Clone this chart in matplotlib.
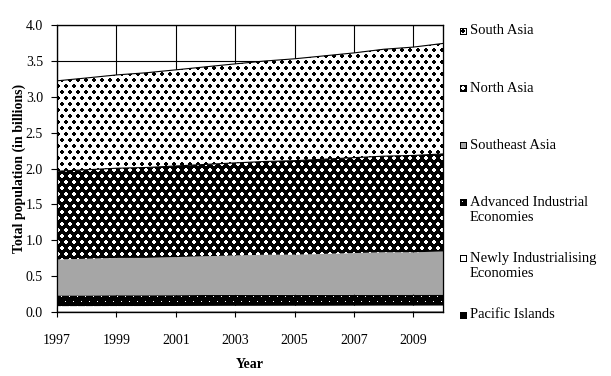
import matplotlib
matplotlib.use("Agg")
import matplotlib.pyplot as plt
import matplotlib.ticker as mticker
import numpy as np

plt.rcParams["font.family"] = ["Liberation Serif", "DejaVu Serif"]

years = list(range(1997, 2011))

# population in billions (stack bottom -> top)
pacific_islands = [0.007, 0.007, 0.007, 0.007, 0.007, 0.008, 0.008, 0.008, 0.008, 0.008, 0.008, 0.009, 0.009, 0.009]
newly_industrialising = [0.075, 0.075, 0.076, 0.076, 0.077, 0.077, 0.078, 0.078, 0.079, 0.079, 0.080, 0.080, 0.080, 0.081]
advanced_industrial = [0.150, 0.150, 0.151, 0.151, 0.151, 0.152, 0.152, 0.152, 0.152, 0.153, 0.153, 0.153, 0.153, 0.153]
southeast_asia = [0.50, 0.51, 0.52, 0.52, 0.53, 0.54, 0.55, 0.56, 0.56, 0.57, 0.58, 0.59, 0.59, 0.60]
north_asia = [1.23, 1.24, 1.25, 1.26, 1.27, 1.28, 1.29, 1.30, 1.31, 1.32, 1.33, 1.34, 1.35, 1.36]
south_asia = [1.26, 1.28, 1.30, 1.32, 1.34, 1.36, 1.38, 1.40, 1.42, 1.44, 1.46, 1.49, 1.51, 1.54]

labels = ["Pacific Islands", "Newly Industrialising\nEconomies", "Advanced Industrial\nEconomies",
          "Southeast Asia", "North Asia", "South Asia"]
values = [pacific_islands, newly_industrialising, advanced_industrial,
          southeast_asia, north_asia, south_asia]


# old-style bitmap fill patterns (1 = black pixel)
def make_tiles():
    plus = np.array([[0, 1, 1, 0], [1, 1, 1, 1], [1, 1, 1, 1], [0, 1, 1, 0]])
    dots = np.zeros((12, 8))
    dots[0:4, 0:4] = plus
    dots[6:10, 4:8] = plus
    sparse = np.ones((10, 8))
    sparse[1, 1] = 0
    sparse[6, 5] = 0
    return {
        "black": np.ones((1, 1)),
        "white": np.zeros((1, 1)),
        "sparse": sparse,
        "grey": np.full((1, 1), 0.35),
        "diamond": 1 - dots,
        "dots": dots,
    }


def fill_tile(tile, h, w):
    reps = (h // tile.shape[0] + 1, w // tile.shape[1] + 1)
    return np.tile(tile, reps)[:h, :w]


tiles = make_tiles()
patterns = ["black", "white", "sparse", "grey", "diamond", "dots"]

W, H = 611, 376
fig = plt.figure(figsize=(W / 100, H / 100), dpi=100)
ax_pos = [57 / W, 64 / H, 386 / W, 287 / H]
ax = fig.add_axes(ax_pos)

ax.set_xlim(1997, 2010)
ax.set_ylim(0, 4.0)
ax.set_xticks(range(1997, 2011, 2))
ax.set_yticks(np.arange(0, 4.01, 0.5))
ax.yaxis.set_major_formatter(mticker.FormatStrFormatter("%.1f"))
ax.grid(True, color="black", lw=0.8)
ax.set_axisbelow(True)
ax.tick_params(axis="y", direction="out", length=4, width=0.8, pad=6, labelsize=10)
ax.tick_params(axis="x", direction="inout", length=7, width=0.8, pad=12, labelsize=10)
ax.set_xlabel("Year", fontsize=10, fontweight="bold", labelpad=8)
ax.set_ylabel("Total population (in billions)", fontsize=10, fontweight="bold", labelpad=0)

# stacked areas: the polygon comes from fill_between, the bitmap pattern
# is laid pixel for pixel over the figure and clipped to it
bottom = np.zeros(len(years))
tops = []
for vals, pat in zip(values, patterns):
    top = bottom + np.array(vals)
    coll = ax.fill_between(years, bottom, top, facecolor="none", edgecolor="none", linewidth=0)
    im = fig.figimage(fill_tile(tiles[pat], H, W), xo=0, yo=0, origin="upper",
                      cmap="gray_r", vmin=0, vmax=1, zorder=1)
    im.set_clip_path(coll.get_paths()[0], ax.transData)
    tops.append(top)
    bottom = top

# frame and outlines go on top of the patterns
top_ax = fig.add_axes(ax_pos, zorder=2, sharex=ax, sharey=ax)
top_ax.patch.set_visible(False)
top_ax.tick_params(left=False, bottom=False, labelleft=False, labelbottom=False)
top_ax.plot(years, tops[4], color="black", lw=0.8)
top_ax.plot(years, tops[5], color="black", lw=0.8)
for s in top_ax.spines.values():
    s.set_linewidth(0.9)

# legend drawn by hand, top entry first
legend_y = [31, 88, 145, 210, 266, 315]
for y, name, pat in zip(legend_y, labels[::-1], patterns[::-1]):
    first = y if "\n" not in name else y - 8
    sw = np.ones((7, 7))
    sw[1:-1, 1:-1] = fill_tile(tiles[pat], 5, 5)
    fig.figimage(sw, xo=460, yo=H - (first + 4), origin="upper",
                 cmap="gray_r", vmin=0, vmax=1, zorder=5)
    fig.text(470 / W, 1 - y / H, name, fontsize=10.5, va="center", ha="left", linespacing=1.2)

fig.savefig("out.png", dpi=100)
